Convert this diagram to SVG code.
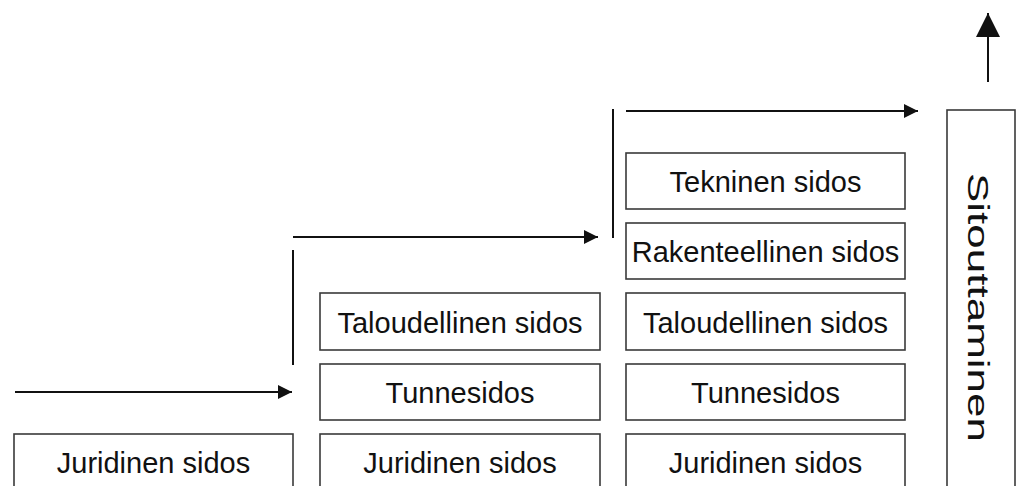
<svg xmlns="http://www.w3.org/2000/svg" width="1018" height="486" viewBox="0 0 1018 486">
<defs>
<style>
.box{fill:#fff;stroke:#3a3a3a;stroke-width:1.6}
.lbl{font-family:"Liberation Sans",Arial,sans-serif;font-size:29px;fill:#111;text-anchor:middle}
.conn{stroke:#111;stroke-width:2;fill:none}
</style>
<marker id="ah" viewBox="0 0 10 10" refX="10" refY="5" markerWidth="7" markerHeight="7" orient="auto" markerUnits="strokeWidth"><path d="M0,0 L10,5 L0,10 z" fill="#111"/></marker>
<marker id="ahb" viewBox="0 0 10 10" refX="10" refY="5" markerWidth="12" markerHeight="12" orient="auto" markerUnits="strokeWidth"><path d="M0,0 L10,5 L0,10 z" fill="#111"/></marker>
</defs>
<rect width="1018" height="486" fill="#fff"/>
<g id="connectors">
<line class="conn" x1="15" y1="392" x2="292" y2="392" marker-end="url(#ah)"/>
<line class="conn" x1="293" y1="250" x2="293" y2="365"/>
<line class="conn" x1="293" y1="237" x2="598" y2="237" marker-end="url(#ah)"/>
<line class="conn" x1="613" y1="109" x2="613" y2="238"/>
<line class="conn" x1="626" y1="111" x2="918" y2="111" marker-end="url(#ah)"/>
<line class="conn" x1="988" y1="82" x2="988" y2="13" marker-end="url(#ahb)"/>
</g>
<g id="c1-juridinen"><rect class="box" x="14" y="434" width="279" height="62"/><text class="lbl" x="153.5" y="473">Juridinen sidos</text></g>
<g id="c2-taloudellinen"><rect class="box" x="320" y="293" width="280" height="57"/><text class="lbl" x="460" y="333">Taloudellinen sidos</text></g>
<g id="c2-tunnesidos"><rect class="box" x="320" y="364" width="280" height="56"/><text class="lbl" x="460" y="403">Tunnesidos</text></g>
<g id="c2-juridinen"><rect class="box" x="320" y="434" width="280" height="62"/><text class="lbl" x="460" y="473">Juridinen sidos</text></g>
<g id="c3-tekninen"><rect class="box" x="626" y="153" width="279" height="56"/><text class="lbl" x="765.5" y="192">Tekninen sidos</text></g>
<g id="c3-rakenteellinen"><rect class="box" x="626" y="223" width="279" height="56"/><text class="lbl" x="765.5" y="262">Rakenteellinen sidos</text></g>
<g id="c3-taloudellinen"><rect class="box" x="626" y="293" width="279" height="57"/><text class="lbl" x="765.5" y="333">Taloudellinen sidos</text></g>
<g id="c3-tunnesidos"><rect class="box" x="626" y="364" width="279" height="56"/><text class="lbl" x="765.5" y="403">Tunnesidos</text></g>
<g id="c3-juridinen"><rect class="box" x="626" y="434" width="279" height="62"/><text class="lbl" x="765.5" y="473">Juridinen sidos</text></g>
<g id="sitouttaminen"><rect class="box" x="947" y="110" width="68" height="386"/><text class="lbl" transform="translate(968,307.5) rotate(90)" x="0" y="0" style="font-size:30px" textLength="269" lengthAdjust="spacingAndGlyphs">Sitouttaminen</text></g>
</svg>
